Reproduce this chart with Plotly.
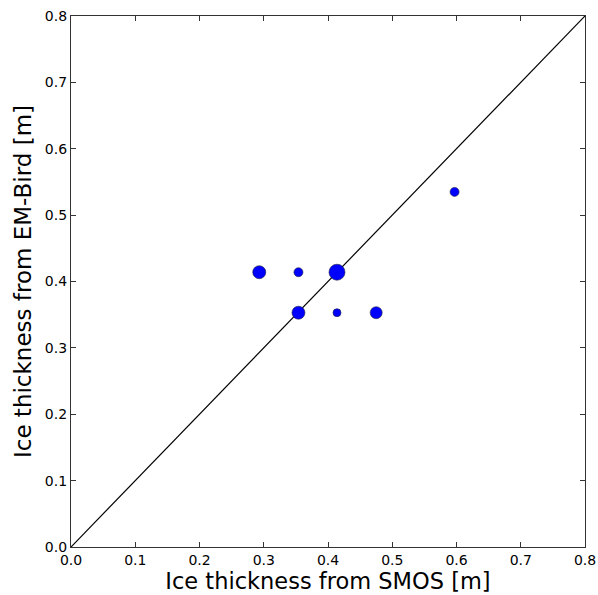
import plotly.graph_objects as go

smos = [0.293, 0.354, 0.414, 0.354, 0.414, 0.475, 0.597]
embird = [0.414, 0.414, 0.414, 0.353, 0.353, 0.353, 0.535]
sizes = [13, 9, 16, 13, 8, 12, 9]
line_x = [0.0, 0.8]
line_y = [0.0, 0.8]
ticks = [0.0, 0.1, 0.2, 0.3, 0.4, 0.5, 0.6, 0.7, 0.8]
tick_text = ["0.0", "0.1", "0.2", "0.3", "0.4", "0.5", "0.6", "0.7", "0.8"]

fig = go.Figure()
fig.add_trace(go.Scatter(x=line_x, y=line_y, mode="lines",
                         line=dict(color="black", width=1.2), showlegend=False,
                         cliponaxis=False))
fig.add_trace(go.Scatter(x=smos, y=embird, mode="markers", opacity=1,
                         marker=dict(color="#0000ff", size=sizes, opacity=1,
                                     line=dict(color="#202040", width=0.6)),
                         showlegend=False))

axis_common = dict(range=[0, 0.8], tickvals=ticks, ticktext=tick_text,
                   ticks="inside", ticklen=5, tickcolor="#333333",
                   showline=True, linecolor="#333333", linewidth=1.3, mirror="ticks",
                   showgrid=False, zeroline=False, automargin=False,
                   ticklabeloverflow="allow",
                   tickfont=dict(family="DejaVu Sans", size=14, color="black"))

fig.update_layout(
    width=598, height=595,
    margin=dict(l=71, r=13, t=16, b=48),
    plot_bgcolor="white", paper_bgcolor="white",
    xaxis=dict(axis_common, title=dict(text="Ice thickness from SMOS [m]",
                                       font=dict(family="DejaVu Sans", size=22.5, color="black"),
                                       standoff=4)),
    yaxis=dict(axis_common, title=dict(text="Ice thickness from EM-Bird [m]",
                                       font=dict(family="DejaVu Sans", size=23, color="black"),
                                       standoff=6)),
)

fig.write_html("out.html", config={"displayModeBar": False},
               post_script="document.body.style.margin='0px';document.body.style.overflow='hidden';")
